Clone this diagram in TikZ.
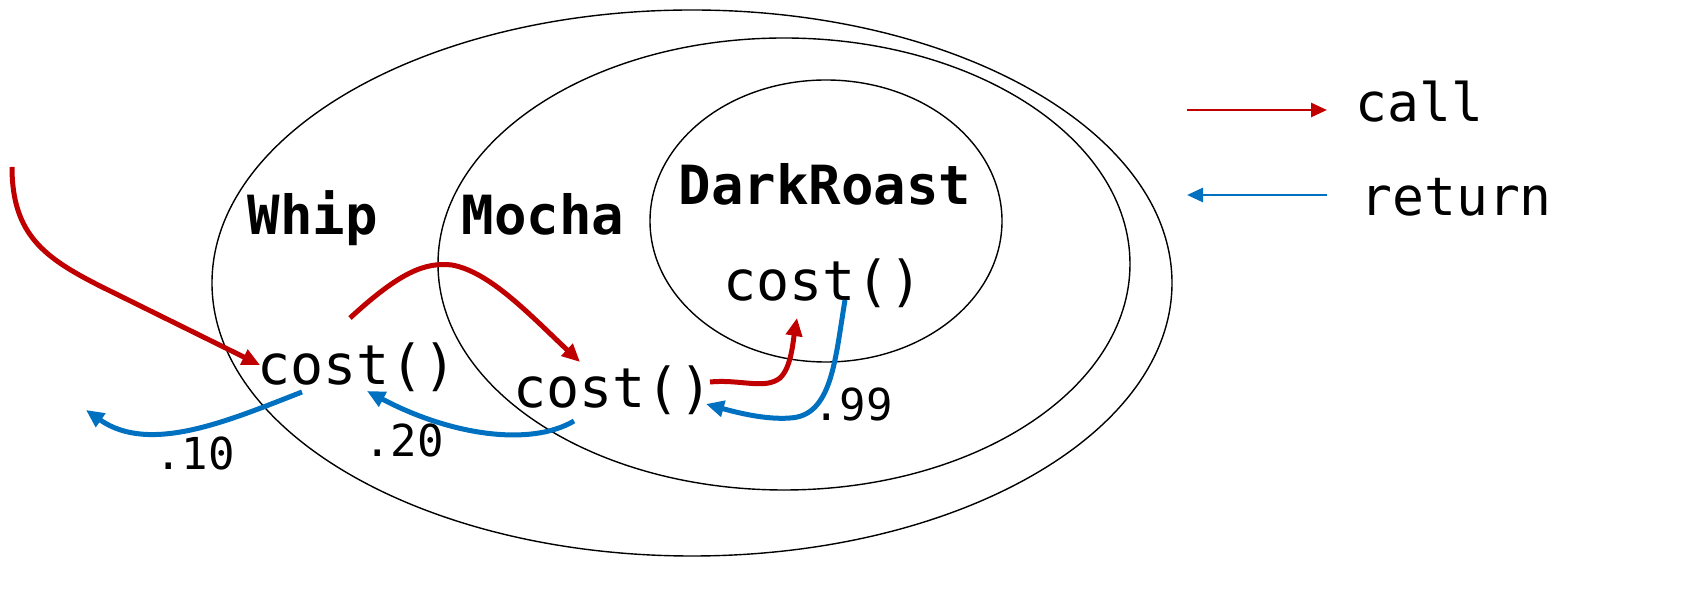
\documentclass[tikz,border=0pt]{standalone}
\usepackage{fontspec}
\setmonofont{DejaVu Sans Mono}
\usetikzlibrary{arrows.meta}
\definecolor{callred}{HTML}{C00000}
\definecolor{retblue}{HTML}{0070C0}
\begin{document}
\begin{tikzpicture}[x=0.5pt,y=-0.5pt,
  ring/.style={draw=black,line width=0.7pt},
  title/.style={font=\ttfamily\bfseries\fontsize{27}{30}\selectfont,inner sep=0pt},
  meth/.style={font=\ttfamily\fontsize{27.5}{30}\selectfont,inner sep=0pt},
  val/.style={font=\ttfamily\fontsize{22}{25}\selectfont,inner sep=0pt},
  leg/.style={font=\ttfamily\fontsize{26.5}{30}\selectfont,inner sep=0pt,anchor=west},
  callarrow/.style={draw=callred,line width=2.5pt,-{Triangle[length=9pt,width=8pt]}},
  retarrow/.style={draw=retblue,line width=2.5pt,-{Triangle[length=9pt,width=8pt]}},
  legcall/.style={draw=callred,line width=1.4pt,-{Triangle[length=8pt,width=7pt]}},
  legret/.style={draw=retblue,line width=1.4pt,-{Triangle[length=8pt,width=7pt]}}]
\useasboundingbox (0,0) rectangle (1682,597);
% rings
\draw[ring] (692,283) ellipse [x radius=480, y radius=273];
\draw[ring] (784,264) ellipse [x radius=346, y radius=226];
\draw[ring] (826,221) ellipse [x radius=176, y radius=141];
% titles
\node[title] (whip) at (313,218) {Whip};
\node[title] (mocha) at (543,214) {Mocha};
\node[title] (dark) at (825,184) {DarkRoast};
% methods
\node[meth] (cw) at (357,367) {cost()};
\node[meth] (cm) at (613,390) {cost()};
\node[meth] (cd) at (823,283) {cost()};
% values
\node[val] (v10) at (195,453) {.10};
\node[val] (v20) at (404,440) {.20};
\node[val] (v99) at (853,404) {.99};
% free ends and attachment points
\coordinate (start) at (12,167);
\coordinate (out) at (86,410);
\coordinate (cwin) at (260,365);
\coordinate (cwout) at (350,318);
\coordinate (cwret) at (367,391);
\coordinate (cwsrc) at (302,392);
\coordinate (cmin) at (580,362);
\coordinate (cmout) at (710,382);
\coordinate (cmret) at (706,404);
\coordinate (cmsrc) at (574,421);
\coordinate (cdin) at (797,318);
\coordinate (cdsrc) at (845,300);
% call arrows
\draw[callarrow] (start) .. controls (12,235) and (45,258) .. (100,286) -- (cwin);
\draw[callarrow] (cwout)
  .. controls (400,272) and (425,262) .. (452,265)
  .. controls (490,272) and (530,315) .. (cmin);
\draw[callarrow] (cmout) .. controls (740,379) and (765,390) .. (780,378)
  .. controls (791,368) and (793,342) .. (cdin);
% return arrows
\draw[retarrow] (cwsrc) .. controls (230,420) and (150,455) .. (out);
\draw[retarrow] (cmsrc) .. controls (530,447) and (450,435) .. (cwret);
\draw[retarrow] (cdsrc) .. controls (835,360) and (832,416) .. (790,418)
  .. controls (765,420) and (735,412) .. (cmret);
% legend
\coordinate (l1a) at (1187,110);
\coordinate (l1b) at (1327,110);
\coordinate (l2a) at (1327,195);
\coordinate (l2b) at (1187,195);
\draw[legcall] (l1a) -- (l1b);
\draw[legret] (l2a) -- (l2b);
\node[leg] (lcall) at (1355,102) {call};
\node[leg] (lret) at (1360,197) {return};
\end{tikzpicture}
\end{document}
